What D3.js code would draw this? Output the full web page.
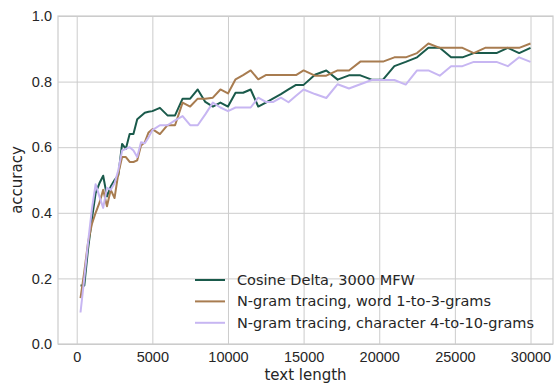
<!DOCTYPE html>
<html>
<head>
<meta charset="utf-8">
<script src="https://cdn.jsdelivr.net/npm/d3@7/dist/d3.min.js"></script>
<style>
    body { margin: 0; background: #ffffff; }
    svg { display: block; font-family: "DejaVu Sans", sans-serif; }
</style>
</head>
<body>
<svg id="chart" width="557" height="383"></svg>
<script>
// Data
var lengths = [250, 500, 750, 1000, 1250, 1500, 1750, 2000, 2250, 2500, 2750, 3000, 3250, 3500, 3750, 4000, 4250, 4500, 4750, 5000,
    5500, 6000, 6500, 7000, 7500, 8000, 8500, 9000, 9500, 10000, 10500, 11000, 11500, 12000, 12500, 13000, 13500, 14000, 14500, 15000,
    15750, 16500, 17250, 18000, 18750, 19500, 20250, 21000, 21750, 22500, 23250, 24000, 24750, 25500, 26250, 27000, 27750, 28500, 29250, 30000];

var cosineDelta = [0.178, 0.178, 0.29, 0.38, 0.46, 0.49, 0.513, 0.45, 0.48, 0.50, 0.515, 0.61, 0.595, 0.64, 0.64, 0.685, 0.695, 0.705, 0.708, 0.71,
    0.72, 0.697, 0.697, 0.748, 0.748, 0.776, 0.738, 0.724, 0.736, 0.724, 0.766, 0.766, 0.776, 0.724, 0.736, 0.749, 0.762, 0.776, 0.79, 0.79,
    0.821, 0.834, 0.806, 0.819, 0.819, 0.806, 0.806, 0.847, 0.86, 0.874, 0.903, 0.903, 0.874, 0.874, 0.887, 0.887, 0.887, 0.903, 0.887, 0.903];

var wordNgrams = [0.14, 0.22, 0.31, 0.365, 0.40, 0.43, 0.47, 0.42, 0.47, 0.445, 0.52, 0.57, 0.57, 0.555, 0.555, 0.56, 0.605, 0.615, 0.645, 0.655,
    0.64, 0.667, 0.667, 0.736, 0.724, 0.748, 0.748, 0.751, 0.776, 0.764, 0.807, 0.82, 0.834, 0.807, 0.82, 0.82, 0.82, 0.82, 0.82, 0.834,
    0.818, 0.818, 0.834, 0.834, 0.861, 0.861, 0.861, 0.874, 0.874, 0.887, 0.916, 0.903, 0.903, 0.903, 0.887, 0.903, 0.903, 0.903, 0.903, 0.916];

var charNgrams = [0.096, 0.20, 0.31, 0.41, 0.487, 0.45, 0.415, 0.476, 0.47, 0.49, 0.53, 0.59, 0.595, 0.60, 0.59, 0.57, 0.615, 0.612, 0.63, 0.652,
    0.667, 0.667, 0.682, 0.695, 0.667, 0.667, 0.70, 0.736, 0.721, 0.71, 0.721, 0.721, 0.721, 0.751, 0.738, 0.738, 0.751, 0.737, 0.757, 0.776,
    0.762, 0.75, 0.792, 0.779, 0.792, 0.805, 0.805, 0.805, 0.791, 0.834, 0.834, 0.818, 0.847, 0.847, 0.86, 0.86, 0.86, 0.847, 0.874, 0.86];

var seriesNames = ["Cosine Delta, 3000 MFW", "N-gram tracing, word 1-to-3-grams", "N-gram tracing, character 4-to-10-grams"];
var seriesColors = ["#1a5a4b", "#a87c50", "#c7b6f2"];

var xTicks = [0, 5000, 10000, 15000, 20000, 25000, 30000];
var yTicks = [0.0, 0.2, 0.4, 0.6, 0.8, 1.0];

// Layout
var plot = { left: 58, right: 553, top: 16, bottom: 344 };
var gridColor = "#cccccc";
var textColor = "#262626";

var svg = d3.select("#chart");

// matplotlib style 5% margin on x
var xPad = (30000 - 250) * 0.05;
var x = d3.scaleLinear()
    .domain([250 - xPad, 30000 + xPad])
    .range([plot.left, plot.right]);

var y = d3.scaleLinear()
    .domain([0, 1])
    .range([plot.bottom, plot.top]);

// Grid
var xAxis = svg.append("g")
    .attr("transform", "translate(0," + plot.bottom + ")")
    .call(d3.axisBottom(x).tickValues(xTicks).tickFormat(d3.format("d"))
        .tickSize(-(plot.bottom - plot.top)).tickPadding(8));

var yAxis = svg.append("g")
    .attr("transform", "translate(" + plot.left + ",0)")
    .call(d3.axisLeft(y).tickValues(yTicks).tickFormat(d3.format(".1f"))
        .tickSize(-(plot.right - plot.left)).tickPadding(6));

[xAxis, yAxis].forEach(function(axis) {
    axis.select(".domain").remove();
    axis.selectAll(".tick line")
        .attr("stroke", gridColor)
        .attr("stroke-width", 1);
    axis.selectAll(".tick text")
        .attr("fill", textColor)
        .style("font-size", "14.5px");
});

// Frame
svg.append("rect")
    .attr("x", plot.left)
    .attr("y", plot.top)
    .attr("width", plot.right - plot.left)
    .attr("height", plot.bottom - plot.top)
    .attr("fill", "none")
    .attr("stroke", gridColor)
    .attr("stroke-width", 1.2);

// Lines
var allSeries = [cosineDelta, wordNgrams, charNgrams];

var line = d3.line()
    .x(function(d, i) { return x(lengths[i]); })
    .y(function(d) { return y(d); });

svg.append("g")
    .selectAll("path")
    .data(allSeries)
    .enter()
    .append("path")
    .attr("d", line)
    .attr("fill", "none")
    .attr("stroke", function(d, i) { return seriesColors[i]; })
    .attr("stroke-width", 2)
    .attr("stroke-linejoin", "round");

// Axis labels
svg.append("text")
    .attr("x", (plot.left + plot.right) / 2)
    .attr("y", 380)
    .attr("text-anchor", "middle")
    .attr("fill", textColor)
    .style("font-size", "15px")
    .text("text length");

svg.append("text")
    .attr("transform", "translate(22," + ((plot.top + plot.bottom) / 2) + ") rotate(-90)")
    .attr("text-anchor", "middle")
    .attr("fill", textColor)
    .style("font-size", "15px")
    .text("accuracy");

// Legend
var legend = svg.append("g")
    .attr("transform", "translate(195,280)");

var rows = legend.selectAll("g")
    .data(seriesNames)
    .enter()
    .append("g")
    .attr("transform", function(d, i) { return "translate(0," + (i * 21.4) + ")"; });

rows.append("line")
    .attr("x1", 0)
    .attr("x2", 30)
    .attr("stroke", function(d, i) { return seriesColors[i]; })
    .attr("stroke-width", 2);

rows.append("text")
    .attr("x", 42)
    .attr("y", 0)
    .attr("dy", "0.35em")
    .attr("fill", textColor)
    .style("font-size", "14.5px")
    .text(function(d) { return d; });
</script>
</body>
</html>
